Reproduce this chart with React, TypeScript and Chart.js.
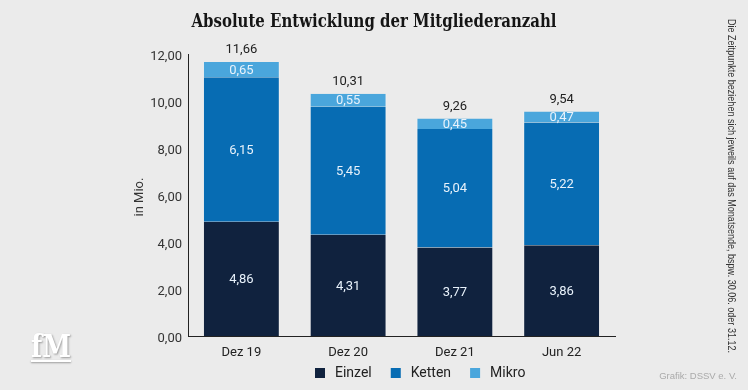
import React, { useEffect, useRef } from "react";
import { Chart, registerables } from "chart.js";

Chart.register(...registerables);

const categories = ["Dez 19", "Dez 20", "Dez 21", "Jun 22"];
const einzel = [4.86, 4.31, 3.77, 3.86];
const ketten = [6.15, 5.45, 5.04, 5.22];
const mikro = [0.65, 0.55, 0.45, 0.47];
const totals = [11.66, 10.31, 9.26, 9.54];
const yTickValues = [0, 2, 4, 6, 8, 10, 12];
const seriesNames = ["Einzel", "Ketten", "Mikro"];
const seriesColors = ["#10223e", "#076cb3", "#4aa6dc"];

const titleText = "Absolute Entwicklung der Mitgliederanzahl";
const axisTitle = "in Mio.";
const noteText = "Die Zeitpunkte beziehen sich jeweils auf das Monatsende, bspw. 30.06. oder 31.12.";
const sourceText = "Grafik: DSSV e. V.";
const logoText = "fM";

const fmt = (v: number) => v.toFixed(2).replace(".", ",");

const decorPlugin = {
  id: "decor",
  beforeDraw(chart: any) {
    const ctx = chart.ctx;
    ctx.save();
    ctx.fillStyle = "#ebebeb";
    ctx.fillRect(0, 0, chart.width, chart.height);
    ctx.restore();
  },
  afterDatasetsDraw(chart: any) {
    const ctx = chart.ctx;
    ctx.save();
    ctx.textAlign = "center";
    ctx.textBaseline = "middle";
    ctx.font = "13px Roboto";
    ctx.fillStyle = "#e8f2fb";
    chart.data.datasets.forEach((ds: any, di: number) => {
      const meta = chart.getDatasetMeta(di);
      meta.data.forEach((bar: any, i: number) => {
        const p = bar.getProps(["x", "y", "base"], true);
        ctx.fillText(fmt(ds.data[i]), p.x, (p.y + p.base) / 2 + 1);
      });
    });
    const xs = chart.scales.x;
    const ys = chart.scales.y;
    ctx.fillStyle = "#222";
    totals.forEach((t, i) => {
      ctx.fillText(fmt(t), xs.getPixelForValue(i), ys.getPixelForValue(t) - 12);
    });
    ctx.restore();
  },
  afterDraw(chart: any) {
    const ctx = chart.ctx;
    // title
    ctx.save();
    ctx.font = "bold 19px 'DejaVu Serif'";
    ctx.fillStyle = "#151515";
    ctx.textBaseline = "alphabetic";
    ctx.textAlign = "left";
    const tw = ctx.measureText(titleText).width;
    const targetW = 365;
    const sx = targetW / tw;
    ctx.translate(374 - targetW / 2, 27);
    ctx.scale(sx, 1);
    ctx.fillText(titleText, 0, 0);
    ctx.restore();

    // y axis title
    ctx.save();
    ctx.font = "13px Roboto";
    ctx.fillStyle = "#333";
    ctx.textAlign = "center";
    ctx.textBaseline = "middle";
    ctx.translate(140, 197);
    ctx.rotate(-Math.PI / 2);
    ctx.fillText(axisTitle, 0, 0);
    ctx.restore();

    // vertical note
    ctx.save();
    ctx.font = "10.5px 'Liberation Sans'";
    ctx.fillStyle = "#333";
    ctx.textAlign = "left";
    ctx.textBaseline = "middle";
    const nw = ctx.measureText(noteText).width;
    ctx.translate(731, 19);
    ctx.rotate(Math.PI / 2);
    ctx.scale(334 / nw, 1);
    ctx.fillText(noteText, 0, 0);
    ctx.restore();

    // source
    ctx.save();
    ctx.font = "9.5px 'Liberation Sans'";
    ctx.fillStyle = "#aaa";
    ctx.textAlign = "right";
    ctx.textBaseline = "middle";
    ctx.fillText(sourceText, 737, 376);
    ctx.restore();

    // legend
    ctx.save();
    ctx.font = "14px Roboto";
    ctx.textAlign = "left";
    ctx.textBaseline = "middle";
    let lx = 315;
    const ly = 373;
    chart.data.datasets.forEach((ds: any) => {
      ctx.fillStyle = ds.backgroundColor;
      ctx.fillRect(lx, ly - 5, 10, 10);
      ctx.fillStyle = "#222";
      ctx.fillText(ds.label, lx + 20, ly);
      lx += 20 + ctx.measureText(ds.label).width + 19;
    });
    ctx.restore();

    // logo
    ctx.save();
    ctx.shadowColor = "rgba(0,0,0,0.35)";
    ctx.shadowBlur = 2;
    ctx.shadowOffsetX = 1;
    ctx.shadowOffsetY = 1;
    ctx.fillStyle = "#ffffff";
    ctx.font = "bold 31px 'DejaVu Serif'";
    ctx.textAlign = "left";
    ctx.textBaseline = "alphabetic";
    const lw = ctx.measureText(logoText).width;
    ctx.translate(31, 357);
    ctx.scale(40 / lw, 1);
    ctx.fillText(logoText, 0, 0);
    ctx.restore();
    ctx.save();
    ctx.shadowColor = "rgba(0,0,0,0.35)";
    ctx.shadowBlur = 2;
    ctx.shadowOffsetY = 1;
    ctx.fillStyle = "#ffffff";
    ctx.fillRect(31, 360, 40, 2);
    ctx.restore();
  },
};

export default function App() {
  const ref = useRef<HTMLCanvasElement>(null);
  useEffect(() => {
    document.body.style.margin = "0";
    document.body.style.background = "#ebebeb";
    const canvas = ref.current!;
    const seriesData = [einzel, ketten, mikro];
    const chart = new Chart(canvas, {
      type: "bar",
      data: {
        labels: categories,
        datasets: seriesNames.map((name, i) => ({
          label: name,
          data: seriesData[i],
          backgroundColor: seriesColors[i],
          borderColor: "rgba(255,255,255,0.35)",
          borderWidth: { left: 1, right: 1, top: 0, bottom: 0 },
          borderSkipped: false,
          categoryPercentage: 1,
          barPercentage: 0.72,
        })),
      },
      options: {
        responsive: false,
        animation: false,
        devicePixelRatio: 1,
        layout: { padding: { left: 0, right: 133, top: 54, bottom: 0 } },
        plugins: {
          legend: { display: false },
          title: { display: false },
          tooltip: { enabled: false },
        },
        scales: {
          x: {
            stacked: true,
            grid: { display: false, drawTicks: false },
            border: { display: true, color: "#222", width: 1 },
            ticks: { font: { family: "Roboto", size: 13 }, color: "#222", padding: 9 },
            afterFit(s: any) {
              s.height = 54;
            },
          },
          y: {
            stacked: true,
            min: 0,
            max: 12,
            grid: { display: false, drawTicks: false },
            border: { display: true, color: "#222", width: 1 },
            afterBuildTicks(s: any) {
              s.ticks = yTickValues.map((v) => ({ value: v }));
            },
            ticks: {
              font: { family: "Roboto", size: 13 },
              color: "#333",
              padding: 6,
              labelOffset: 3,
              callback: (v: any) => fmt(Number(v)),
            },
            afterFit(s: any) {
              s.width = 188;
            },
          },
        },
      },
      plugins: [decorPlugin],
    });
    return () => chart.destroy();
  }, []);
  return (
    <div style={{ width: 748, height: 390, background: "#ebebeb" }}>
      <canvas ref={ref} width={748} height={390} style={{ display: "block" }} />
    </div>
  );
}
